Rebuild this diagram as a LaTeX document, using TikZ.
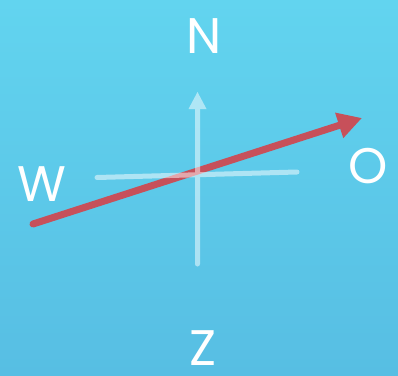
\documentclass[tikz,border=0pt]{standalone}
\usepackage{fontspec}
\setmainfont{Poppins}
\usetikzlibrary{arrows.meta}
\definecolor{bgtop}{RGB}{98,212,239}
\definecolor{bgbot}{RGB}{87,190,227}
\definecolor{redarrow}{RGB}{199,80,90}
\tikzset{
  letter/.style={text=white,font=\fontsize{50}{50}\selectfont,inner sep=0pt,anchor=center},
  crossline/.style={draw=white,line width=5pt,line cap=round},
  redline/.style={draw=redarrow,line width=7pt,line cap=round,-{Triangle[length=24pt,width=25pt]}}
}
\begin{document}
\begin{tikzpicture}[x=1pt,y=-1pt]
\shade[top color=bgtop,bottom color=bgbot] (0,0) rectangle (398,375);
\useasboundingbox (0,0) rectangle (398,375);
\node[letter] (N) at (204,36) {N};
\node[letter] (W) at (42,184) {W};
\node[letter] (O) at (368,166) {O};
\node[letter] (Z) at (203,348) {Z};
\coordinate (hl) at (97,177.5);
\coordinate (hr) at (297,172);
\coordinate (vb) at (197.5,264);
\coordinate (vt) at (197.5,92);
\coordinate (rs) at (33,224);
\coordinate (re) at (362,118);
\path[redline] (rs) -- (re);
\begin{scope}[transparency group,opacity=0.5]
\path[crossline] (hl) -- (hr);
\path[crossline,-{Triangle[length=17pt,width=18pt,line width=0pt,fill=white]}] (vb) -- (vt);
\end{scope}
\end{tikzpicture}
\end{document}
